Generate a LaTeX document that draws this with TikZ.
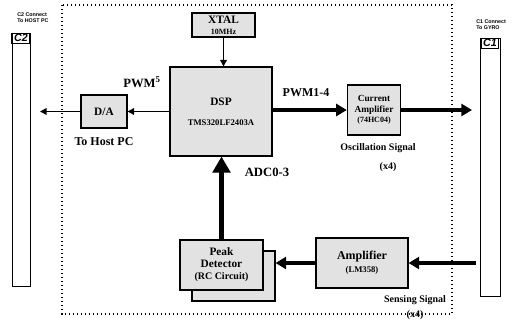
\documentclass[tikz,border=0pt]{standalone}
\usepackage{fontspec}
\setmainfont{Liberation Serif}
\setsansfont{Liberation Sans}
\usetikzlibrary{arrows.meta, positioning, calc}
\definecolor{stipple}{HTML}{E2E2E2}

\begin{document}
\begin{tikzpicture}[x=0.75pt, y=-0.75pt,
  blk/.style={rectangle, draw, line width=0.8pt, fill=stipple, align=center,
    font=\fontsize{7}{8}\selectfont\bfseries, inner sep=1pt},
  bar/.style={rectangle, draw, line width=0.6pt, fill=white},
  barlbl/.style={rectangle, draw, line width=0.8pt, inner sep=1pt,
    font=\fontsize{8}{8}\sffamily\bfseries\itshape},
  lbl/.style={font=\fontsize{8}{9}\selectfont\bfseries, align=center, inner sep=0pt},
  sig/.style={lbl, font=\fontsize{7.5}{8.5}\selectfont\bfseries},
  tiny/.style={font=\fontsize{4}{4.5}\sffamily\bfseries, align=left, inner sep=0pt},
  arr/.style={-{Triangle[length=5pt,width=5pt]}, line width=1.2pt},
  barr/.style={-{Triangle[length=8pt,width=9pt]}, line width=2.8pt},
]
  \useasboundingbox (0,0) rectangle (513,322);
  % board outline
  \draw[dotted, line width=1pt] (62,5) rectangle (452,314);

  % connectors at both sides
  \node[bar, minimum width=13.5pt, minimum height=189.75pt] (c2) at (21,159.5) {};
  \node[barlbl, minimum width=13.5pt, anchor=north] (c2lbl) at (c2.north) {C2};
  \node[bar, minimum width=15pt, minimum height=193.5pt] (c1) at (490,167) {};
  \node[barlbl, minimum width=12pt, anchor=north] (c1lbl) at (c1.north) {C1};
  \node[tiny, anchor=west] (c2txt) at (17,18) {C2 Connect\\To HOST PC};
  \node[tiny, anchor=west] (c1txt) at (476,25) {C1 Connect\\To GYRO};

  % blocks
  \node[blk, minimum width=47.25pt, minimum height=18pt] (xtal) at (223.5,25)
    {{\fontsize{8.5}{9}\selectfont XTAL}\\{\fontsize{6}{7}\selectfont 10MHz}};
  \node[blk, minimum width=76.5pt, minimum height=66.75pt] (dsp) at (221,111.5)
    {{\fontsize{8.5}{9}\selectfont DSP}\\[7pt]{\fontsize{6.5}{7}\selectfont TMS320LF2403A}};
  \node[blk, minimum width=34.5pt, minimum height=24.75pt] (da) at (104,111.5)
    {\fontsize{8.5}{9}\selectfont D/A};
  \node[blk, minimum width=40pt, minimum height=37.5pt] (camp) at (374,110)
    {Current\\Amplifier\\{\fontsize{6}{7}\selectfont (74HC04)}};
  \node[blk, minimum width=69pt, minimum height=37.5pt, font=\fontsize{9}{10}\selectfont\bfseries]
    (amp) at (362,263) {Amplifier\\{\fontsize{6.5}{7.5}\selectfont (LM358)}};
  \node[blk, minimum width=62.25pt, minimum height=37.5pt] (peakbk) at (233.5,276) {};
  \node[blk, minimum width=62.25pt, minimum height=37.5pt, font=\fontsize{8.5}{9}\selectfont\bfseries]
    (peak) at (221.5,265) {Peak\\Detector\\{\fontsize{7.5}{8}\selectfont (RC Circuit)}};

  % labels
  \node[lbl, font=\fontsize{9.5}{10}\selectfont\bfseries] (pwm5) at (142,82) {PWM\textsuperscript{5}};
  \node[lbl, font=\fontsize{9}{10}\selectfont\bfseries] (host) at (104,142) {To Host PC};
  \node[lbl, font=\fontsize{9}{10}\selectfont\bfseries] (pwm14) at (306,93) {PWM1-4};
  \node[lbl, font=\fontsize{9.5}{10}\selectfont\bfseries] (adc) at (267,172) {ADC0-3};
  \node[sig] (osc) at (378,148) {Oscillation Signal};
  \node[sig] (oscn) at (388,167) {(x4)};
  \node[sig] (sens) at (415,300) {Sensing Signal};
  \node[sig] (sensn) at (415,315) {(x4)};

  % signal paths
  \coordinate (hostend) at (40,111.5);
  \coordinate (gyroout) at (472,110);
  \coordinate (gyroin) at (476,263);
  \draw[arr] (xtal.south) -- (xtal.south |- dsp.north);
  \draw[arr] (dsp.west |- da) -- (da.east);
  \draw[arr] (da.west) -- (hostend);
  \draw[barr] (dsp.east |- camp) -- (camp.west);
  \draw[barr] (camp.east) -- (gyroout);
  \draw[barr] (gyroin) -- (amp.east |- gyroin);
  \draw[barr] (amp.west) -- (amp.west -| peakbk.east);
  \draw[-{Triangle[length=12pt,width=13pt]}, line width=3.5pt]
    (peak.north) -- (peak.north |- dsp.south);
\end{tikzpicture}
\end{document}
